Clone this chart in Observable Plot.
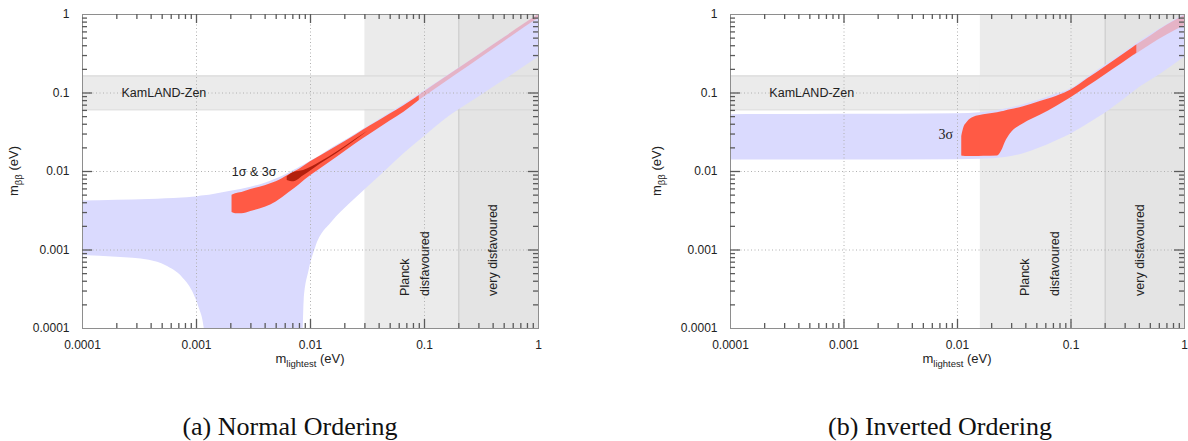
<!DOCTYPE html>
<html><head><meta charset="utf-8">
<script src="https://cdn.jsdelivr.net/npm/d3@7"></script>
<script src="https://cdn.jsdelivr.net/npm/@observablehq/plot@0.6"></script>
<style>
body{margin:0;background:#fff;}
#wrap{position:relative;width:1188px;height:441px;overflow:hidden;background:#fff;}
#wrap > svg{position:absolute;top:0;}
</style></head><body><div id="wrap"></div>
<script>
// ---- axes ----
const xDomain = [1e-4, 1];
const yDomain = [1e-4, 1];
const majorTicks = [1e-4, 1e-3, 1e-2, 1e-1, 1];
const tickLabels = ["0.0001", "0.001", "0.01", "0.1", "1"];

// ---- excluded / disfavoured regions ----
const kamland = [0.061, 0.165];
const planckNO = 0.03;
const planckIO = 0.0159;
const veryDisfavoured = 0.2;

// ---- Normal Ordering: full allowed band ----
const noBlueX    = [1e-4, 2e-4, 3.85e-4, 5.4e-4, 7.5e-4, 9.2e-4, 1.05e-3, 1.17e-3, 1.3e-3, 2e-3, 3e-3, 4e-3, 5e-3, 6.5e-3, 7.8e-3, 8.63e-3, 8.8e-3, 9.7e-3, 0.0111, 0.0156, 0.0218, 0.0306, 0.045, 0.066, 0.1, 0.17, 0.3, 0.5, 1];
const noBlueHigh = [0.0042, 0.0043, 0.0044, 0.0045, 0.0046, 0.0047, 0.0048, 0.0049, 0.0050, 0.0056, 0.0063, 0.0071, 0.0080, 0.0096, 0.0110, 0.0119, 0.0121, 0.0131, 0.0146, 0.0200, 0.0266, 0.036, 0.051, 0.072, 0.106, 0.177, 0.308, 0.508, 1.0];
const noBlueLow  = [0.00085, 0.00081, 0.00074, 0.00063, 0.00045, 0.0003, 0.000186, 0.0001, 1e-5, 1e-5, 1e-5, 1e-5, 1e-5, 1e-5, 1e-5, 0.0001, 0.000226, 0.00054, 0.00107, 0.0023, 0.0038, 0.006, 0.010, 0.0168, 0.028, 0.052, 0.089, 0.145, 0.285];

// ---- Normal Ordering: 3 sigma region ----
const noRedX    = [0.00205, 0.0022, 0.0025, 0.003, 0.004, 0.005, 0.0065, 0.008, 0.01, 0.013, 0.0171, 0.025, 0.0336, 0.05, 0.066, 0.09];
const noRedHigh = [0.0050, 0.0052, 0.0054, 0.0059, 0.0066, 0.0074, 0.0091, 0.0107, 0.0133, 0.0166, 0.0210, 0.0292, 0.0382, 0.054, 0.069, 0.092];
const noRedLow  = [0.0030, 0.0029, 0.0029, 0.0031, 0.0035, 0.0041, 0.0054, 0.0068, 0.0088, 0.0115, 0.0152, 0.0225, 0.030, 0.044, 0.057, 0.080];
const noFaintX    = [0.085, 0.12, 0.2, 0.3, 0.5, 0.75, 1];
const noFaintHigh = [0.088, 0.125, 0.205, 0.305, 0.505, 0.755, 0.99];
const noFaintLow  = [0.076, 0.108, 0.18, 0.27, 0.45, 0.68, 0.89];
// ---- Normal Ordering: 1 sigma region ----
const noDarkX    = [0.00625, 0.00714, 0.0087, 0.01225, 0.0171, 0.0257, 0.032];
const noDarkHigh = [0.0086, 0.0097, 0.0103, 0.0132, 0.0177, 0.0265, 0.0329];
const noDarkLow  = [0.0077, 0.0074, 0.0088, 0.0125, 0.0170, 0.0257, 0.0327];

// ---- Inverted Ordering: full allowed band ----
const ioBlueX    = [1e-4, 1e-3, 0.01, 0.016, 0.0273, 0.0382, 0.0536, 0.07, 0.1, 0.14, 0.197, 0.3, 0.406, 0.6, 1];
const ioBlueHigh = [0.053, 0.0535, 0.0545, 0.056, 0.063, 0.071, 0.082, 0.094, 0.113, 0.158, 0.222, 0.335, 0.455, 0.65, 1.0];
const ioBlueLow  = [0.0140, 0.0140, 0.0141, 0.0143, 0.0152, 0.0168, 0.0200, 0.0236, 0.0300, 0.0400, 0.0543, 0.085, 0.119, 0.17, 0.286];

// ---- Inverted Ordering: 3 sigma region ----
const ioRedX    = [0.0109, 0.0113, 0.0122, 0.0139, 0.017, 0.0225, 0.0246, 0.0264, 0.0292, 0.0382, 0.0536, 0.075, 0.1, 0.14, 0.197, 0.28, 0.38];
const ioRedHigh = [0.028, 0.035, 0.0425, 0.049, 0.0527, 0.056, 0.0575, 0.059, 0.061, 0.067, 0.078, 0.091, 0.109, 0.152, 0.212, 0.30, 0.41];
const ioRedLow  = [0.0158, 0.0156, 0.0155, 0.0155, 0.0156, 0.0158, 0.0185, 0.0236, 0.030, 0.0405, 0.052, 0.068, 0.087, 0.120, 0.167, 0.235, 0.32];
const ioFaintX    = [0.36, 0.5, 0.7, 1];
const ioFaintHigh = [0.39, 0.53, 0.73, 0.97];
const ioFaintLow  = [0.30, 0.41, 0.55, 0.72];

// ---- annotations ----
const bandLabels = ["Planck", "disfavoured", "very disfavoured"];
const noBandLabelX = [0.068, 0.1, 0.40];
const ioBandLabelX = [0.0396, 0.0727, 0.406];
const bandLabelY = 0.00026;
const kamlandLabel = {text: "KamLAND-Zen", x: 0.00022, y: 0.1};
const noSigmaLabel = {text: "1σ & 3σ", x: 0.0032, y: 0.0100};
const ioSigmaLabel = {text: "3σ", x: 0.0079, y: 0.030};
const captions = ["(a) Normal Ordering", "(b) Inverted Ordering"];

// ---- drawing ----
const H = 380, MT = 14, MB = 52;
const SANS = "Liberation Sans, Arial, Helvetica, sans-serif";
const tickColor = "#5a5a5a";
const labelMap = new Map(majorTicks.map((d, i) => [d, tickLabels[i]]));
const allTicks = d3.scaleLog().domain(xDomain).ticks();
const isMajor = d => Math.abs(Math.log10(d) - Math.round(Math.log10(d))) < 1e-6;
const minorTicks = allTicks.filter(d => !isMajor(d));
const innerMajors = majorTicks.slice(1, -1);

function band(xs, lo, hi) { return xs.map((x, i) => ({x, lo: lo[i], hi: hi[i]})); }

function panel(o) {
  const innerW = o.width - o.ml - o.mr, innerH = H - MT - MB;
  const areas = o.areas.map(a => Plot.areaY(band(a.x, a.lo, a.hi), {
    x: "x", y1: "lo", y2: "hi", fill: a.fill, fillOpacity: a.opacity ?? 1, curve: "monotone-x", clip: true
  }));
  const tk = {stroke: tickColor, strokeWidth: 1.3};
  const marks = [
    Plot.rect([{x1: xDomain[0], x2: xDomain[1], y1: kamland[0], y2: kamland[1]}], {x1: "x1", x2: "x2", y1: "y1", y2: "y2", fill: "#ebebeb"}),
    Plot.rect([{x1: o.planck, x2: xDomain[1], y1: yDomain[0], y2: yDomain[1]}], {x1: "x1", x2: "x2", y1: "y1", y2: "y2", fill: "#ebebeb"}),
    Plot.rect([{x1: veryDisfavoured, x2: xDomain[1], y1: yDomain[0], y2: yDomain[1]}], {x1: "x1", x2: "x2", y1: "y1", y2: "y2", fill: "#e4e4e4"}),
    Plot.ruleY(kamland, {stroke: "#d6d6d6"}),
    Plot.ruleX([veryDisfavoured], {stroke: "#c9c9c9"}),
    areas[0],
    Plot.ruleX(innerMajors, {stroke: "#b0b0b0", strokeDasharray: "1,2.5"}),
    Plot.ruleY(innerMajors, {stroke: "#b0b0b0", strokeDasharray: "1,2.5"}),
    ...areas.slice(1),
    Plot.text([kamlandLabel], {x: "x", y: "y", text: "text", textAnchor: "start", fontSize: 12.5, fill: "#222", fontFamily: SANS}),
    Plot.text([o.sigma], {x: "x", y: "y", text: "text", textAnchor: "middle", fontSize: o.sigmaSize, fill: "#222", fontFamily: o.sigmaFont}),
    Plot.text(bandLabels.map((t, i) => ({t, x: o.bandX[i], y: bandLabelY})), {x: "x", y: "y", text: "t", rotate: -90, textAnchor: "start", fontSize: 12.5, fill: "#222", fontFamily: SANS}),
    Plot.frame({stroke: "#8e8e8e"}),
    // inward ticks on all four sides
    Plot.ruleX(minorTicks, {insetTop: innerH - 5, ...tk}),
    Plot.ruleX(minorTicks, {insetBottom: innerH - 5, ...tk}),
    Plot.ruleX(innerMajors, {insetTop: innerH - 9, ...tk}),
    Plot.ruleX(innerMajors, {insetBottom: innerH - 9, ...tk}),
    Plot.ruleY(minorTicks, {insetRight: innerW - 5, ...tk}),
    Plot.ruleY(minorTicks, {insetLeft: innerW - 5, ...tk}),
    Plot.ruleY(innerMajors, {insetRight: innerW - 10, ...tk}),
    Plot.ruleY(innerMajors, {insetLeft: innerW - 10, ...tk}),
    Plot.axisX(majorTicks, {anchor: "bottom", tickSize: 0, tickPadding: 12, tickFormat: d => labelMap.get(d), label: null, fontSize: 12, fill: "#222"}),
    Plot.axisY(majorTicks, {anchor: "left", tickSize: 0, tickPadding: 13, tickFormat: d => labelMap.get(d), label: null, fontSize: 12, fill: "#222"})
  ];
  const svg = Plot.plot({
    width: o.width, height: H,
    marginTop: MT, marginBottom: MB, marginLeft: o.ml, marginRight: o.mr,
    x: {type: "log", domain: xDomain},
    y: {type: "log", domain: yDomain},
    style: {fontFamily: SANS, fontSize: "12px", color: "#222", background: "transparent", overflow: "visible"},
    marks
  });
  const s = d3.select(svg);
  const cx = o.ml + innerW / 2, cy = MT + innerH / 2;
  const xl = s.append("text").attr("x", cx).attr("y", 363).attr("text-anchor", "middle")
    .attr("font-family", SANS).attr("font-size", 13).attr("fill", "#222");
  xl.append("tspan").text("m");
  xl.append("tspan").attr("font-size", 9.5).attr("dy", 3.5).text("lightest");
  xl.append("tspan").attr("dy", -3.5).text(" (eV)");
  const yl = s.append("text").attr("transform", `translate(${o.yLabelX},${cy}) rotate(-90)`).attr("text-anchor", "middle")
    .attr("font-family", SANS).attr("font-size", 13).attr("fill", "#222");
  yl.append("tspan").text("m");
  yl.append("tspan").attr("font-size", 9.5).attr("dy", 3.5).text("ββ");
  yl.append("tspan").attr("dy", -3.5).text(" (eV)");
  svg.style.left = o.left + "px";
  return svg;
}

const wrap = document.getElementById("wrap");
wrap.appendChild(panel({
  left: 0, width: 594, ml: 82, mr: 56, planck: planckNO, bandX: noBandLabelX, yLabelX: 18,
  sigma: noSigmaLabel, sigmaFont: SANS, sigmaSize: 12.5,
  areas: [
    {x: noBlueX, lo: noBlueLow, hi: noBlueHigh, fill: "#dadafe"},
    {x: noFaintX, lo: noFaintLow, hi: noFaintHigh, fill: "#ff5a45", opacity: 0.3},
    {x: noRedX, lo: noRedLow, hi: noRedHigh, fill: "#ff5a45"},
    {x: noDarkX, lo: noDarkLow, hi: noDarkHigh, fill: "#b3200e"}
  ]
}));
wrap.appendChild(panel({
  left: 594, width: 594, ml: 136, mr: 4, planck: planckIO, bandX: ioBandLabelX, yLabelX: 67,
  sigma: ioSigmaLabel, sigmaFont: "Liberation Serif, Times New Roman, serif", sigmaSize: 14,
  areas: [
    {x: ioBlueX, lo: ioBlueLow, hi: ioBlueHigh, fill: "#dadafe"},
    {x: ioFaintX, lo: ioFaintLow, hi: ioFaintHigh, fill: "#ff5a45", opacity: 0.3},
    {x: ioRedX, lo: ioRedLow, hi: ioRedHigh, fill: "#ff5a45"}
  ]
}));

// captions
const cap = d3.select(wrap).append("svg").attr("width", 1188).attr("height", 441).style("left", "0px").style("pointer-events", "none");
cap.selectAll("text").data(captions).join("text")
  .attr("x", (d, i) => [290, 940][i]).attr("y", 435).attr("text-anchor", "middle")
  .attr("font-family", "Liberation Serif, Times New Roman, serif").attr("font-size", 26).attr("fill", "#111")
  .text(d => d);
</script></body></html>
